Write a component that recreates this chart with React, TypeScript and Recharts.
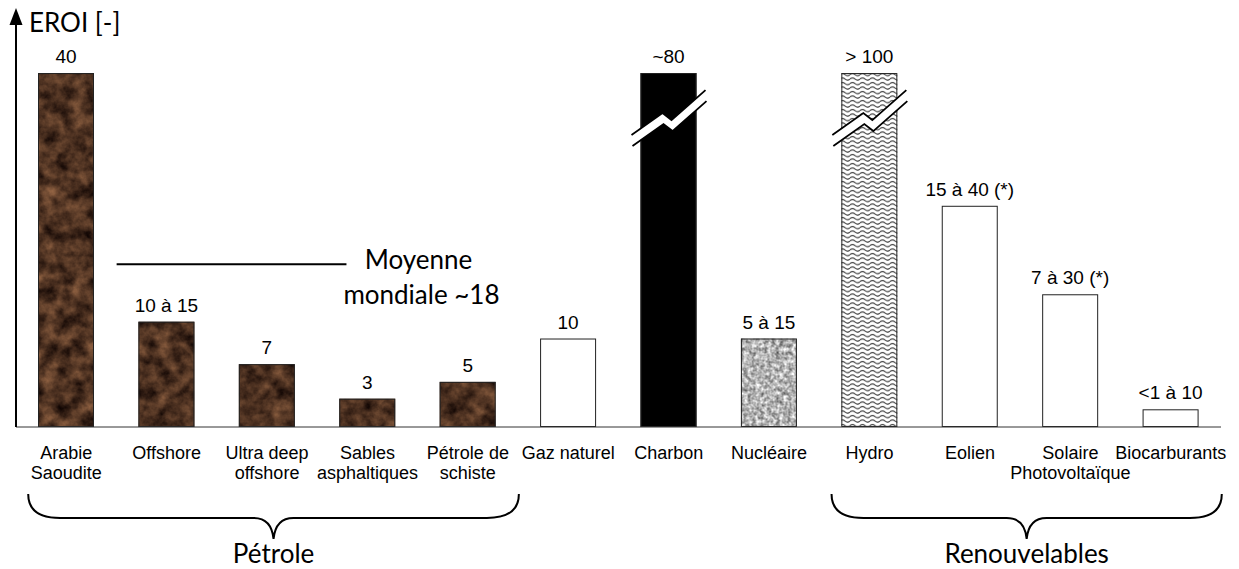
import React from 'react';
import { BarChart, Bar, XAxis, YAxis, LabelList, ReferenceLine } from 'recharts';

// ---- data ----
const categories = [
  'Arabie\nSaoudite',
  'Offshore',
  'Ultra deep\noffshore',
  'Sables\nasphaltiques',
  'Pétrole de\nschiste',
  'Gaz naturel',
  'Charbon',
  'Nucléaire',
  'Hydro',
  'Eolien',
  'Solaire\nPhotovoltaïque',
  'Biocarburants',
];
const eroiValues = [40, 11.9, 7.1, 3.2, 5.1, 10, 40, 10, 40, 25, 15, 2.0];
const valueLabels = ['40', '10 à 15', '7', '3', '5', '10', '~80', '5 à 15', '> 100', '15 à 40 (*)', '7 à 30 (*)', '<1 à 10'];
const brokenCategories = ['Charbon', 'Hydro'];
const worldAverage = 18.4;
const worldAverageText = ['Moyenne', 'mondiale ~18'];
const groupLabels = ['Pétrole', 'Renouvelables'];
const groupFirst = [categories[0], categories[8]];
const groupLast = [categories[4], categories[11]];
const axisTitle = 'EROI [-]';
const yMax = 46.9;

// ---- styles (separate from data) ----
const fillKinds = ['marble', 'marble', 'marble', 'marble', 'marble', 'plain', 'black', 'nuclear', 'hydro', 'plain', 'plain', 'plain'];

const data = categories.map((name, i) => ({
  name,
  value: eroiValues[i],
  label: valueLabels[i],
  kind: fillKinds[i],
  broken: brokenCategories.includes(name),
}));

const SANS = "'Liberation Sans', Arial, sans-serif";
const HUMAN = "Lato, 'Open Sans', sans-serif";

const BarShape = (props: any) => {
  const { x, y, width, height, payload } = props;
  const kind = payload.kind;
  let fill = '#fff';
  let filter: string | undefined;
  if (kind === 'marble') { fill = '#000'; filter = 'url(#marbleFx)'; }
  else if (kind === 'nuclear') { fill = '#000'; filter = 'url(#nuclearFx)'; }
  else if (kind === 'hydro') fill = 'url(#hydroPat)';
  else if (kind === 'black') fill = '#000';
  const up = [[-9, 62], [22, 40], [31, 47], [65, 17]];
  const lo = up.map(([a, b]) => [a + 1, b + 11]);
  const pts = (arr: number[][]) => arr.map(([a, b]) => `${x + a},${y + b}`).join(' ');
  return (
    <g>
      <rect x={x} y={y} width={width} height={height} fill={fill} filter={filter} />
      <rect x={x + 0.5} y={y + 0.5} width={width - 1} height={height - 1} fill="none" stroke="#222" strokeWidth={1} />
      {payload.broken && (
        <g>
          <polygon points={pts([...up, ...lo.slice().reverse()])} fill="#fff" />
          <polyline points={pts(up)} fill="none" stroke="#000" strokeWidth={1.8} />
          <polyline points={pts(lo)} fill="none" stroke="#000" strokeWidth={1.8} />
        </g>
      )}
    </g>
  );
};

const ValueLabel = (props: any) => {
  const { x, y, width, value } = props;
  return (
    <text x={x + width / 2} y={y - 10} textAnchor="middle" fontFamily={SANS} fontSize={19} fill="#000">
      {value}
    </text>
  );
};

const CategoryTick = (props: any) => {
  const { x, y, payload } = props;
  const lines = String(payload.value).split('\n');
  return (
    <g>
      {lines.map((l, i) => (
        <text key={i} x={x} y={y + 32 + i * 19.5} textAnchor="middle" fontFamily={SANS} fontSize={18} fill="#000">
          {l}
        </text>
      ))}
    </g>
  );
};

const AxisTitle = (props: any) => {
  const vb = props.viewBox || {};
  const ax = (vb.x || 0) + (vb.width || 0);
  const top = vb.y || 0;
  return (
    <g>
      <polygon points={`${ax},${top - 4} ${ax - 6.5},${top + 13} ${ax + 6.5},${top + 13}`} fill="#000" />
      <text x={ax + 13} y={top + 20} fontFamily={HUMAN} fontSize={26} fill="#000">{axisTitle}</text>
    </g>
  );
};

const AverageShape = (props: any) => {
  const { x1, y1, x2 } = props;
  return (
    <g>
      <line x1={x1 - 50} y1={y1} x2={x2 - 21} y2={y1} stroke="#000" strokeWidth={2} />
      <text x={x2 + 51} y={y1 + 5} textAnchor="middle" fontFamily={HUMAN} fontSize={26} fill="#000">{worldAverageText[0]}</text>
      <text x={x2 + 54} y={y1 + 40} textAnchor="middle" fontFamily={HUMAN} fontSize={26} fill="#000">{worldAverageText[1]}</text>
    </g>
  );
};

const makeBrace = (label: string) => (props: any) => {
  const { x1, y1, x2 } = props;
  const xL = x1 - 38;
  const xR = x2 + 51;
  const mid = (xL + xR) / 2;
  const top = y1 + 67;
  const h = y1 + 91;
  const tip = y1 + 112;
  const d = `M${xL},${top} Q${xL},${h} ${xL + 32},${h} L${mid - 20},${h} Q${mid - 2},${h} ${mid},${tip} Q${mid + 2},${h} ${mid + 20},${h} L${xR - 32},${h} Q${xR},${h} ${xR},${top}`;
  return (
    <g>
      <path d={d} fill="none" stroke="#000" strokeWidth={2} />
      <text x={mid} y={y1 + 136} textAnchor="middle" fontFamily={HUMAN} fontSize={26} fill="#000">{label}</text>
    </g>
  );
};

export default function App() {
  return (
    <div style={{ position: 'fixed', left: 0, top: 0, width: 1239, height: 569, background: '#fff' }}>
      <BarChart width={1239} height={569} data={data} margin={{ top: 12, right: 18, bottom: 0, left: 15 }}>
        <defs>
          <filter id="marbleFx" x="0" y="0" width="1" height="1" colorInterpolationFilters="sRGB">
            <feTurbulence type="fractalNoise" baseFrequency="0.07" numOctaves={4} seed={7} result="noise" />
            <feColorMatrix in="noise" type="matrix" values="0.65 0 0 0 -0.02  0.47 0 0 0 -0.04  0.32 0 0 0 -0.03  0 0 0 0 1" result="col" />
            <feComposite in="col" in2="SourceGraphic" operator="in" />
          </filter>
          <filter id="nuclearFx" x="0" y="0" width="1" height="1" colorInterpolationFilters="sRGB">
            <feTurbulence type="fractalNoise" baseFrequency="0.25" numOctaves={2} seed={3} result="noise" />
            <feColorMatrix in="noise" type="matrix" values="0.95 0 0 0 0.23  0.95 0 0 0 0.23  0.95 0 0 0 0.23  0 0 0 0 1" result="col" />
            <feComposite in="col" in2="SourceGraphic" operator="in" />
          </filter>
          <pattern id="hydroPat" width="10" height="4.5" patternUnits="userSpaceOnUse">
            <rect width="10" height="4.5" fill="#fff" />
            <path d="M0 2.6 Q2.5 0.4 5 2.6 T10 2.6" fill="none" stroke="#333" strokeWidth="1.1" />
          </pattern>
        </defs>
        <XAxis
          dataKey="name"
          height={142}
          interval={0}
          tickLine={false}
          tickSize={0}
          tickMargin={0}
          axisLine={{ stroke: '#333', strokeWidth: 1 }}
          tick={<CategoryTick />}
        />
        <YAxis
          width={1}
          domain={[0, yMax]}
          allowDataOverflow
          tick={false}
          tickLine={false}
          axisLine={{ stroke: '#000', strokeWidth: 2 }}
          label={<AxisTitle />}
        />
        <Bar dataKey="value" barSize={56} isAnimationActive={false} shape={<BarShape />}>
          <LabelList dataKey="label" content={<ValueLabel />} />
        </Bar>
        <ReferenceLine
          segment={[{ x: categories[1], y: worldAverage }, { x: categories[3], y: worldAverage }]}
          ifOverflow="visible"
          shape={<AverageShape />}
        />
        {groupLabels.map((g, i) => (
          <ReferenceLine
            key={g}
            segment={[{ x: groupFirst[i], y: 0 }, { x: groupLast[i], y: 0 }]}
            ifOverflow="visible"
            shape={makeBrace(g)}
          />
        ))}
      </BarChart>
    </div>
  );
}
